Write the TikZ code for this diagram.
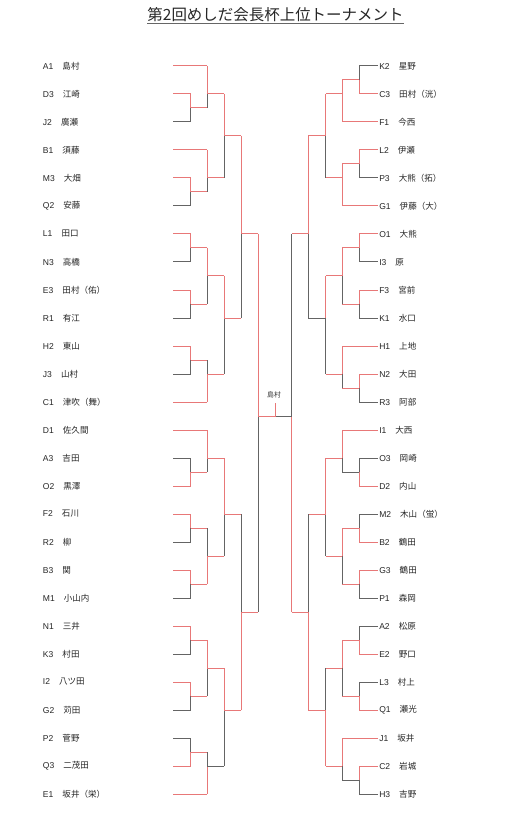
\documentclass[tikz,border=0pt]{standalone}
\usepackage{fontspec}
\setmainfont{Liberation Sans}
\newfontfamily\cjk{Noto Sans CJK JP}
\definecolor{win}{RGB}{232,120,120}
\definecolor{lose}{RGB}{100,100,100}
\tikzset{
  W/.style={draw=win, line width=0.75pt},
  L/.style={draw=lose, line width=0.75pt},
  lbl/.style={anchor=west, inner sep=0pt, text=black!85, font=\fontsize{6.4pt}{7pt}\selectfont},
}
\newcommand\bk[4]{\draw[#3] (#1) -- (#1 -| #2); \draw[#4] (#1 -| #2) -- (#2);}
\newcommand\lleaf[3]{\coordinate (#1) at (173,#2); \node[lbl] (n#1) at (42.7,#2) {#1\hspace{6.8pt}{\cjk #3}};}
\newcommand\rleaf[3]{\coordinate (#1) at (377.7,#2); \node[lbl] (n#1) at (379,#2) {#1\hspace{6.8pt}{\cjk #3}};}
\begin{document}
\begin{tikzpicture}[x=0.75pt,y=-0.75pt]
\useasboundingbox (0,0) rectangle (514,823);
\fill[white] (0,0) rectangle (514,823);
% title
\node[anchor=base, inner sep=0pt, text=black!85, font=\cjk\fontsize{11.6pt}{13pt}\selectfont] (title) at (275.5,20.8) {第2回めしだ会長杯上位トーナメント};
\draw[black!60, line width=0.75pt] ([yshift=-1.9pt]title.base west) -- ([yshift=-1.9pt]title.base east);
% left leaves
\lleaf{A1}{66}{島村}
\lleaf{D3}{94}{江崎}
\lleaf{J2}{122}{廣瀬}
\lleaf{B1}{150}{須藤}
\lleaf{M3}{178}{大畑}
\lleaf{Q2}{206}{安藤}
\lleaf{L1}{234}{田口}
\lleaf{N3}{262}{高橋}
\lleaf{E3}{290}{田村（佑）}
\lleaf{R1}{318}{有江}
\lleaf{H2}{346}{東山}
\lleaf{J3}{374}{山村}
\lleaf{C1}{402}{津吹（舞）}
\lleaf{D1}{430}{佐久間}
\lleaf{A3}{458}{吉田}
\lleaf{O2}{486}{黒澤}
\lleaf{F2}{514}{石川}
\lleaf{R2}{542}{柳}
\lleaf{B3}{570}{関}
\lleaf{M1}{598}{小山内}
\lleaf{N1}{626}{三井}
\lleaf{K3}{654}{村田}
\lleaf{I2}{682}{八ツ田}
\lleaf{G2}{710}{苅田}
\lleaf{P2}{738}{菅野}
\lleaf{Q3}{766}{二茂田}
\lleaf{E1}{794}{坂井（栄）}
% right leaves
\rleaf{K2}{66}{星野}
\rleaf{C3}{94}{田村（洸）}
\rleaf{F1}{122}{今西}
\rleaf{L2}{150}{伊瀬}
\rleaf{P3}{178}{大熊（拓）}
\rleaf{G1}{206}{伊藤（大）}
\rleaf{O1}{234}{大熊}
\rleaf{I3}{262}{原}
\rleaf{F3}{290}{宮前}
\rleaf{K1}{318}{水口}
\rleaf{H1}{346}{上地}
\rleaf{N2}{374}{大田}
\rleaf{R3}{402}{阿部}
\rleaf{I1}{430}{大西}
\rleaf{O3}{458}{岡崎}
\rleaf{D2}{486}{内山}
\rleaf{M2}{514}{木山（蛍）}
\rleaf{B2}{542}{鶴田}
\rleaf{G3}{570}{鶴田}
\rleaf{P1}{598}{森岡}
\rleaf{A2}{626}{松原}
\rleaf{E2}{654}{野口}
\rleaf{L3}{682}{村上}
\rleaf{Q1}{710}{瀬光}
\rleaf{J1}{738}{坂井}
\rleaf{C2}{766}{岩城}
\rleaf{H3}{794}{吉野}
% match points left
\coordinate (a1) at (190.7,108); \coordinate (a2) at (207.3,94); \coordinate (a3) at (190.7,192);
\coordinate (a4) at (207.3,178); \coordinate (a5) at (224.3,136);
\coordinate (b1) at (190.7,248); \coordinate (b2) at (190.7,304); \coordinate (b3) at (207.3,276);
\coordinate (b4) at (190.7,360); \coordinate (b5) at (207.3,374); \coordinate (b6) at (224.3,318);
\coordinate (lt) at (241,234);
\coordinate (c1) at (190.7,472); \coordinate (c2) at (207.3,458); \coordinate (c3) at (190.7,528);
\coordinate (c4) at (190.7,584); \coordinate (c5) at (207.3,556); \coordinate (c6) at (224.3,514);
\coordinate (d1) at (190.7,640); \coordinate (d2) at (190.7,696); \coordinate (d3) at (207.3,668);
\coordinate (d4) at (190.7,752); \coordinate (d5) at (207.3,766); \coordinate (d6) at (224.3,710);
\coordinate (lb) at (241,612);
\coordinate (lf) at (258.3,416.7);
% match points right
\coordinate (e1) at (359.3,80); \coordinate (e2) at (342.3,94); \coordinate (e3) at (359.3,164);
\coordinate (e4) at (342.3,178); \coordinate (e5) at (325.7,136);
\coordinate (f1) at (359.3,248); \coordinate (f2) at (359.3,304); \coordinate (f3) at (342.3,276);
\coordinate (f4) at (359.3,388); \coordinate (f5) at (342.3,374); \coordinate (f6) at (325.7,318);
\coordinate (rt) at (308.3,234);
\coordinate (g1) at (359.3,472); \coordinate (g2) at (342.3,458); \coordinate (g3) at (359.3,528);
\coordinate (g4) at (359.3,584); \coordinate (g5) at (342.3,556); \coordinate (g6) at (325.7,514);
\coordinate (h1) at (359.3,640); \coordinate (h2) at (359.3,696); \coordinate (h3) at (342.3,668);
\coordinate (h4) at (359.3,780); \coordinate (h5) at (342.3,766); \coordinate (h6) at (325.7,710);
\coordinate (rb) at (308.3,612);
\coordinate (rf) at (291.7,416.7);
\coordinate (champ) at (275,416.7); \coordinate (mark) at (275,403);
% left bracket
\bk{D3}{a1}{W}{W} \bk{J2}{a1}{L}{L}
\bk{A1}{a2}{W}{W} \bk{a1}{a2}{W}{L}
\bk{M3}{a3}{W}{W} \bk{Q2}{a3}{L}{L}
\bk{B1}{a4}{W}{W} \bk{a3}{a4}{W}{L}
\bk{a2}{a5}{W}{W} \bk{a4}{a5}{W}{L}
\bk{L1}{b1}{W}{W} \bk{N3}{b1}{L}{L}
\bk{E3}{b2}{W}{W} \bk{R1}{b2}{L}{L}
\bk{b1}{b3}{W}{W} \bk{b2}{b3}{W}{L}
\bk{H2}{b4}{W}{W} \bk{J3}{b4}{L}{L}
\bk{b4}{b5}{W}{L} \bk{C1}{b5}{W}{W}
\bk{b3}{b6}{W}{W} \bk{b5}{b6}{W}{L}
\bk{a5}{lt}{W}{W} \bk{b6}{lt}{W}{L}
\bk{A3}{c1}{L}{L} \bk{O2}{c1}{W}{W}
\bk{D1}{c2}{W}{W} \bk{c1}{c2}{W}{L}
\bk{F2}{c3}{W}{W} \bk{R2}{c3}{L}{L}
\bk{B3}{c4}{W}{W} \bk{M1}{c4}{L}{L}
\bk{c3}{c5}{W}{L} \bk{c4}{c5}{W}{W}
\bk{c2}{c6}{W}{W} \bk{c5}{c6}{W}{L}
\bk{N1}{d1}{W}{W} \bk{K3}{d1}{L}{L}
\bk{I2}{d2}{W}{W} \bk{G2}{d2}{L}{L}
\bk{d1}{d3}{W}{W} \bk{d2}{d3}{W}{L}
\bk{P2}{d4}{L}{L} \bk{Q3}{d4}{W}{W}
\bk{d4}{d5}{W}{L} \bk{E1}{d5}{W}{W}
\bk{d3}{d6}{W}{W} \bk{d5}{d6}{L}{L}
\bk{c6}{lb}{W}{L} \bk{d6}{lb}{W}{W}
\bk{lt}{lf}{W}{W} \bk{lb}{lf}{W}{L}
% right bracket
\bk{K2}{e1}{L}{L} \bk{C3}{e1}{W}{W}
\bk{e1}{e2}{W}{W} \bk{F1}{e2}{W}{W}
\bk{L2}{e3}{W}{W} \bk{P3}{e3}{L}{L}
\bk{e3}{e4}{W}{W} \bk{G1}{e4}{W}{W}
\bk{e2}{e5}{W}{W} \bk{e4}{e5}{W}{L}
\bk{O1}{f1}{W}{W} \bk{I3}{f1}{L}{L}
\bk{F3}{f2}{W}{W} \bk{K1}{f2}{L}{L}
\bk{f1}{f3}{W}{W} \bk{f2}{f3}{W}{L}
\bk{N2}{f4}{W}{W} \bk{R3}{f4}{L}{L}
\bk{H1}{f5}{W}{W} \bk{f4}{f5}{W}{L}
\bk{f3}{f6}{W}{W} \bk{f5}{f6}{W}{L}
\bk{e5}{rt}{W}{W} \bk{f6}{rt}{L}{L}
\bk{O3}{g1}{L}{L} \bk{D2}{g1}{W}{W}
\bk{I1}{g2}{W}{W} \bk{g1}{g2}{L}{L}
\bk{M2}{g3}{L}{L} \bk{B2}{g3}{W}{W}
\bk{G3}{g4}{W}{W} \bk{P1}{g4}{L}{L}
\bk{g3}{g5}{W}{W} \bk{g4}{g5}{W}{L}
\bk{g2}{g6}{W}{W} \bk{g5}{g6}{W}{L}
\bk{A2}{h1}{L}{L} \bk{E2}{h1}{W}{W}
\bk{L3}{h2}{L}{L} \bk{Q1}{h2}{W}{W}
\bk{h1}{h3}{W}{W} \bk{h2}{h3}{W}{L}
\bk{C2}{h4}{W}{W} \bk{H3}{h4}{L}{L}
\bk{J1}{h5}{W}{W} \bk{h4}{h5}{L}{L}
\bk{h3}{h6}{W}{L} \bk{h5}{h6}{W}{W}
\bk{g6}{rb}{W}{L} \bk{h6}{rb}{W}{W}
\bk{rt}{rf}{W}{L} \bk{rb}{rf}{W}{W}
% final
\draw[W] (lf) -- (champ); \draw[L] (champ) -- (rf);
\draw[W] (champ) -- (mark);
\node[inner sep=0pt, text=black!80, font=\cjk\fontsize{5.2pt}{6pt}\selectfont] (winner) at (274,395) {島村};
\end{tikzpicture}
\end{document}
